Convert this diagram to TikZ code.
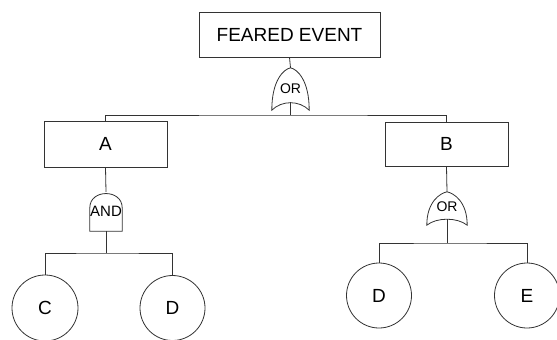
\documentclass[tikz,border=0pt]{standalone}
\usepackage{fontspec}
\setmainfont{Liberation Sans}
\usetikzlibrary{calc}

\tikzset{
  line/.style={draw=black!80, line width=0.8pt},
  event/.style={line, rectangle, inner sep=0pt, font=\fontsize{19}{21}\selectfont},
  basic/.style={line, circle, inner sep=0pt, minimum size=#1, font=\fontsize{19}{21}\selectfont},
  gatetext/.style={inner sep=0pt, font=\fontsize{14}{16}\selectfont},
  % OR gate: pointed top, bulging sides, concave base (width, height, base depth)
  orgate/.style n args={3}{gatetext, rectangle, minimum width=#1, minimum height=#2,
    append after command={\pgfextra{
      \draw[line] (\tikzlastnode.north)
        .. controls ([xshift=-7pt,yshift=-1.5pt]\tikzlastnode.north)
               and ([xshift=0pt,yshift=-0.3*#2]\tikzlastnode.north west)
        .. (\tikzlastnode.south west)
        .. controls ([xshift=10pt,yshift=#3]\tikzlastnode.south west)
               and ([xshift=-10pt,yshift=#3]\tikzlastnode.south east)
        .. (\tikzlastnode.south east)
        .. controls ([xshift=0pt,yshift=-0.3*#2]\tikzlastnode.north east)
               and ([xshift=7pt,yshift=-1.5pt]\tikzlastnode.north)
        .. (\tikzlastnode.north);
    }}},
  % AND gate: flat base, rounded top
  andgate/.style={gatetext, rectangle, minimum width=32pt, minimum height=39pt,
    append after command={\pgfextra{
      \draw[line] (\tikzlastnode.south west)
        -- ([yshift=-16pt]\tikzlastnode.north west)
        .. controls ([yshift=3pt]\tikzlastnode.north west)
               and ([yshift=3pt]\tikzlastnode.north east)
        .. ([yshift=-16pt]\tikzlastnode.north east)
        -- (\tikzlastnode.south east) -- cycle;
    }}},
}

\begin{document}
\begin{tikzpicture}[x=1pt, y=-1pt]
  \useasboundingbox (0,0) rectangle (557,340);
  \clip (0,0) rectangle (557,340);

  % events
  \node[event, minimum width=181pt, minimum height=45pt] (top) at (289.5,34.5) {FEARED EVENT};
  \node[event, minimum width=123pt, minimum height=46pt] (A) at (105.5,144) {A};
  \node[event, minimum width=123pt, minimum height=44pt] (B) at (446.5,144) {B};

  % gates
  \node[orgate={37pt}{42pt}{10pt}] (g1) at (290.5,89) {OR};
  \node[andgate] (g2) at (106,211.5) {\fontsize{15}{16}\selectfont AND};
  \node[orgate={40pt}{33pt}{8pt}] (g3) at (447,208.5) {\raisebox{3pt}{OR}};

  % basic events
  \node[basic=66pt] (C) at (45,308) {C};
  \node[basic=65pt] (D1) at (172.5,308) {D};
  \node[basic=65pt] (D2) at (379,295.5) {D};
  \node[basic=65pt] (E) at (527,295.5) {E};

  % junctions on the horizontal bars
  \coordinate (j1) at (290.5,115);
  \coordinate (j2) at (106,253);
  \coordinate (j3) at (447,243);

  % connectors
  \draw[line] (top.south) -- (g1.north);
  \draw[line] ([yshift=8pt]g1.south) -- (j1);
  \draw[line] (A.north) |- (j1) -| (B.north);

  \draw[line] (A.south) -- (g2.north);
  \draw[line] (g2.south) -- (j2);
  \draw[line] (C.north) |- (j2) -| (D1.north);

  \draw[line] (B.south) -- (g3.north);
  \draw[line] ([yshift=6pt]g3.south) -- (j3);
  \draw[line] (D2.north) |- (j3) -| (E.north);
\end{tikzpicture}
\end{document}
